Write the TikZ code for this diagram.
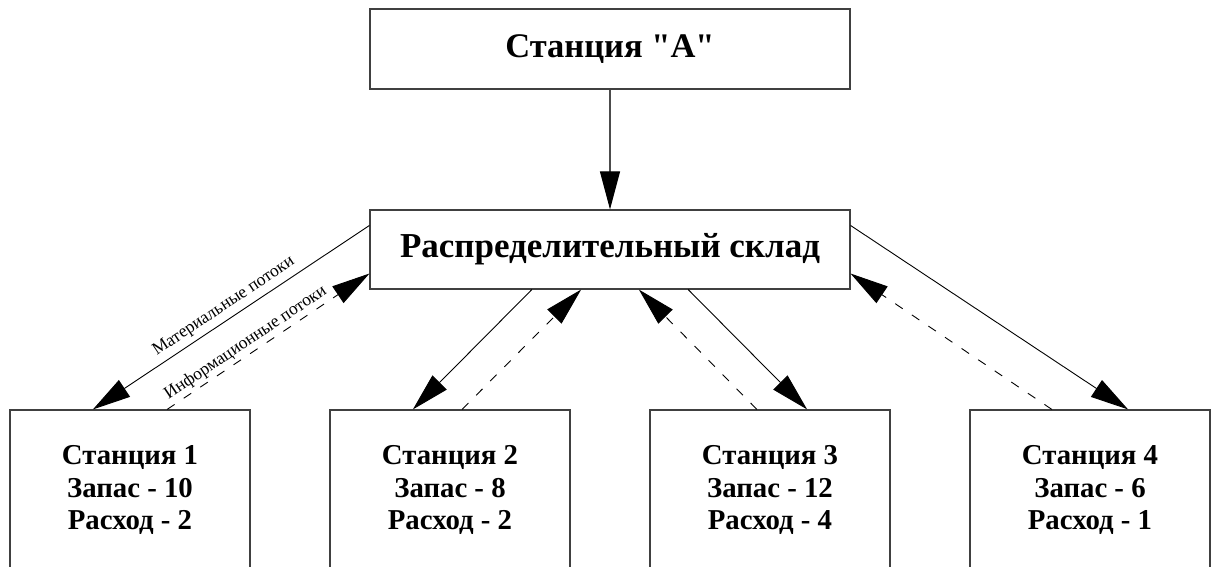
\documentclass[tikz,border=0pt]{standalone}
\usepackage{fontspec}
\setmainfont{Liberation Serif}[Ligatures=TeXOff]
\usetikzlibrary{arrows.meta,calc}
\begin{document}
\begin{tikzpicture}[x=1pt,y=-1pt,
  box/.style={draw=black!75,line width=1.1pt,fill=white,inner sep=0pt,align=center,font=\bfseries},
  conn/.style={draw=black,line width=0.9pt},
  tip/.style={-{Triangle[length=38pt,width=20pt,color=black,fill=black]}},
  tipback/.style={{Triangle[length=38pt,width=20pt,color=black,fill=black]}-},
  info/.style={dash pattern=on 9pt off 11pt},
  lbl/.style={font=\fontsize{17.5}{20}\selectfont,sloped,inner sep=2pt}
]
\useasboundingbox (0,0) rectangle (1216,567);
\clip (0,0) rectangle (1216,567);
\node[box,minimum width=480pt,minimum height=80pt,font=\bfseries\fontsize{34.5}{38}\selectfont] (A) at (610,49) {Станция "А"};
\node[box,minimum width=480pt,minimum height=79pt,font=\bfseries\fontsize{35}{40}\selectfont] (W) at (610,249.5) {Распределительный склад};
\tikzset{sbox/.style={box,minimum width=240pt,minimum height=160pt,font=\bfseries\fontsize{28.8}{32.5}\selectfont}}
\node[sbox] (S1) at (130,490) {Станция 1\\Запас - 10\\Расход - 2};
\node[sbox] (S2) at (450,490) {Станция 2\\Запас - 8\\Расход - 2};
\node[sbox] (S3) at (770,490) {Станция 3\\Запас - 12\\Расход - 4};
\node[sbox] (S4) at (1090,490) {Станция 4\\Запас - 6\\Расход - 1};
% A -> W
\draw[conn,draw=black!70,line width=1.1pt,tip] (A.south) -- (W.north);
% station 1
\draw[conn,tipback] ($(S1.north west)!0.346!(S1.north east)$) -- ($(W.north west)!0.2!(W.south west)$)
  node[lbl,midway,above=3pt] {Материальные потоки};
\draw[conn,info,tip] ($(S1.north west)!0.654!(S1.north east)$) -- ($(W.north west)!0.8!(W.south west)$)
  node[lbl,pos=0.42,above=1pt] {Информационные потоки};
% station 2
\draw[conn,tip] ($(W.south west)!0.3375!(W.south east)$) -- ($(S2.north west)!0.346!(S2.north east)$);
\draw[conn,info,tip] ($(S2.north west)!0.55!(S2.north east)$) -- ($(W.south west)!0.44!(W.south east)$);
% station 3
\draw[conn,tip] ($(W.south west)!0.6625!(W.south east)$) -- ($(S3.north west)!0.654!(S3.north east)$);
\draw[conn,info,tip] ($(S3.north west)!0.446!(S3.north east)$) -- ($(W.south west)!0.56!(W.south east)$);
% station 4
\draw[conn,tip] ($(W.north east)!0.2!(W.south east)$) -- ($(S4.north west)!0.658!(S4.north east)$);
\draw[conn,info,tip] ($(S4.north west)!0.342!(S4.north east)$) -- ($(W.north east)!0.8!(W.south east)$);
\end{tikzpicture}
\end{document}
